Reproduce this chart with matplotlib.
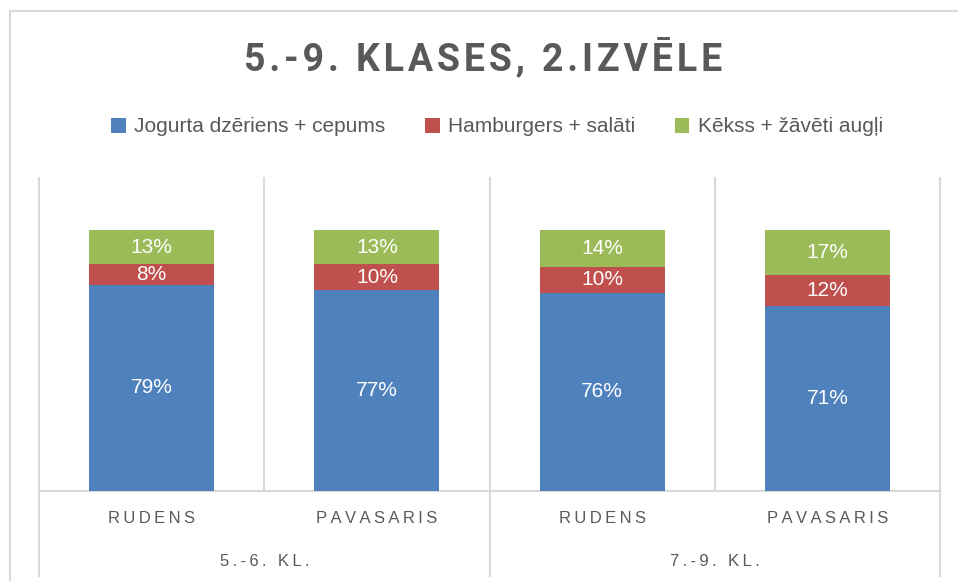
import matplotlib
matplotlib.use("Agg")
import matplotlib.pyplot as plt
import matplotlib.transforms as mtransforms
from matplotlib.patches import Rectangle

plt.rcParams['font.family'] = ['Liberation Sans', 'DejaVu Sans']

title = "5.-9. KLASES, 2.IZVĒLE"
seasons = ["RUDENS", "PAVASARIS", "RUDENS", "PAVASARIS"]
groups = ["5.-6. KL.", "7.-9. KL."]
series_names = ["Jogurta dzēriens + cepums", "Hamburgers + salāti", "Kēkss + žāvēti augļi"]
jogurts = [79, 77, 76, 71]
hamburgers = [8, 10, 10, 12]
kekss = [13, 13, 14, 17]
colors = ["#4F81BD", "#C0504D", "#9BBB59"]
grid_c = "#D9D9D9"
text_c = "#595959"

W, H = 958, 581
fig = plt.figure(figsize=(W / 100, H / 100), dpi=100)

# outer chart border
fig.patches.append(Rectangle((10 / W, -0.05), 1.2, 1 - 11 / H + 0.05, transform=fig.transFigure,
                             fill=False, edgecolor=grid_c, linewidth=1.5))

ax = fig.add_axes([39 / W, (H - 491) / H, (940 - 39) / W, (491 - 178) / H])
ax.set_xlim(-0.5, 3.5)
ax.set_ylim(0, 120)
for s in ax.spines.values():
    s.set_visible(False)
ax.set_xticks([])
ax.set_yticks([])

x = list(range(len(seasons)))
series = [jogurts, hamburgers, kekss]
bottom = [0] * len(x)
for vals, name, c in zip(series, series_names, colors):
    ax.bar(x, vals, bottom=bottom, width=0.555, color=c, label=name, zorder=3)
    for xi, v, b in zip(x, vals, bottom):
        ax.text(xi, b + v / 2, f"{v}%", ha="center", va="center", color="white", fontsize=15, zorder=4)
    bottom = [b + v for b, v in zip(bottom, vals)]

# grid / separators
trans = mtransforms.blended_transform_factory(ax.transData, ax.transAxes)
for xb in [-0.5, 0.5, 1.5, 2.5, 3.5]:
    y0 = -0.27 if xb in (-0.5, 1.5, 3.5) else 0
    ax.plot([xb, xb], [y0, 1], transform=trans, color=grid_c, lw=1.5, clip_on=False, zorder=1)
ax.plot([-0.5, 3.5], [0, 0], transform=trans, color=grid_c, lw=1.5, clip_on=False, zorder=1)

def spaced(s, sep="\u2009"):
    return sep.join(s)

for xi, s in zip(x, seasons):
    ax.text(xi, -0.089, spaced(s), transform=trans, ha="center", va="center",
            color=text_c, fontsize=12)
for gi, g in enumerate(groups):
    ax.text(0.5 + 2 * gi, -0.224, spaced(g), transform=trans, ha="center", va="center",
            color=text_c, fontsize=12)

fig.text(483 / W, 1 - 58 / H, spaced(title, "\u200a"), ha="center", va="center", color=text_c,
         fontsize=27, fontweight="bold", family=["Roboto", "Liberation Sans", "DejaVu Sans"])

fig.legend(loc="center", bbox_to_anchor=(497 / W, 1 - 127 / H), ncol=3, frameon=False,
           handlelength=0.7, handleheight=0.7, handletextpad=0.4, columnspacing=1.9,
           fontsize=15, labelcolor=text_c)

fig.savefig("out.png", dpi=100)
